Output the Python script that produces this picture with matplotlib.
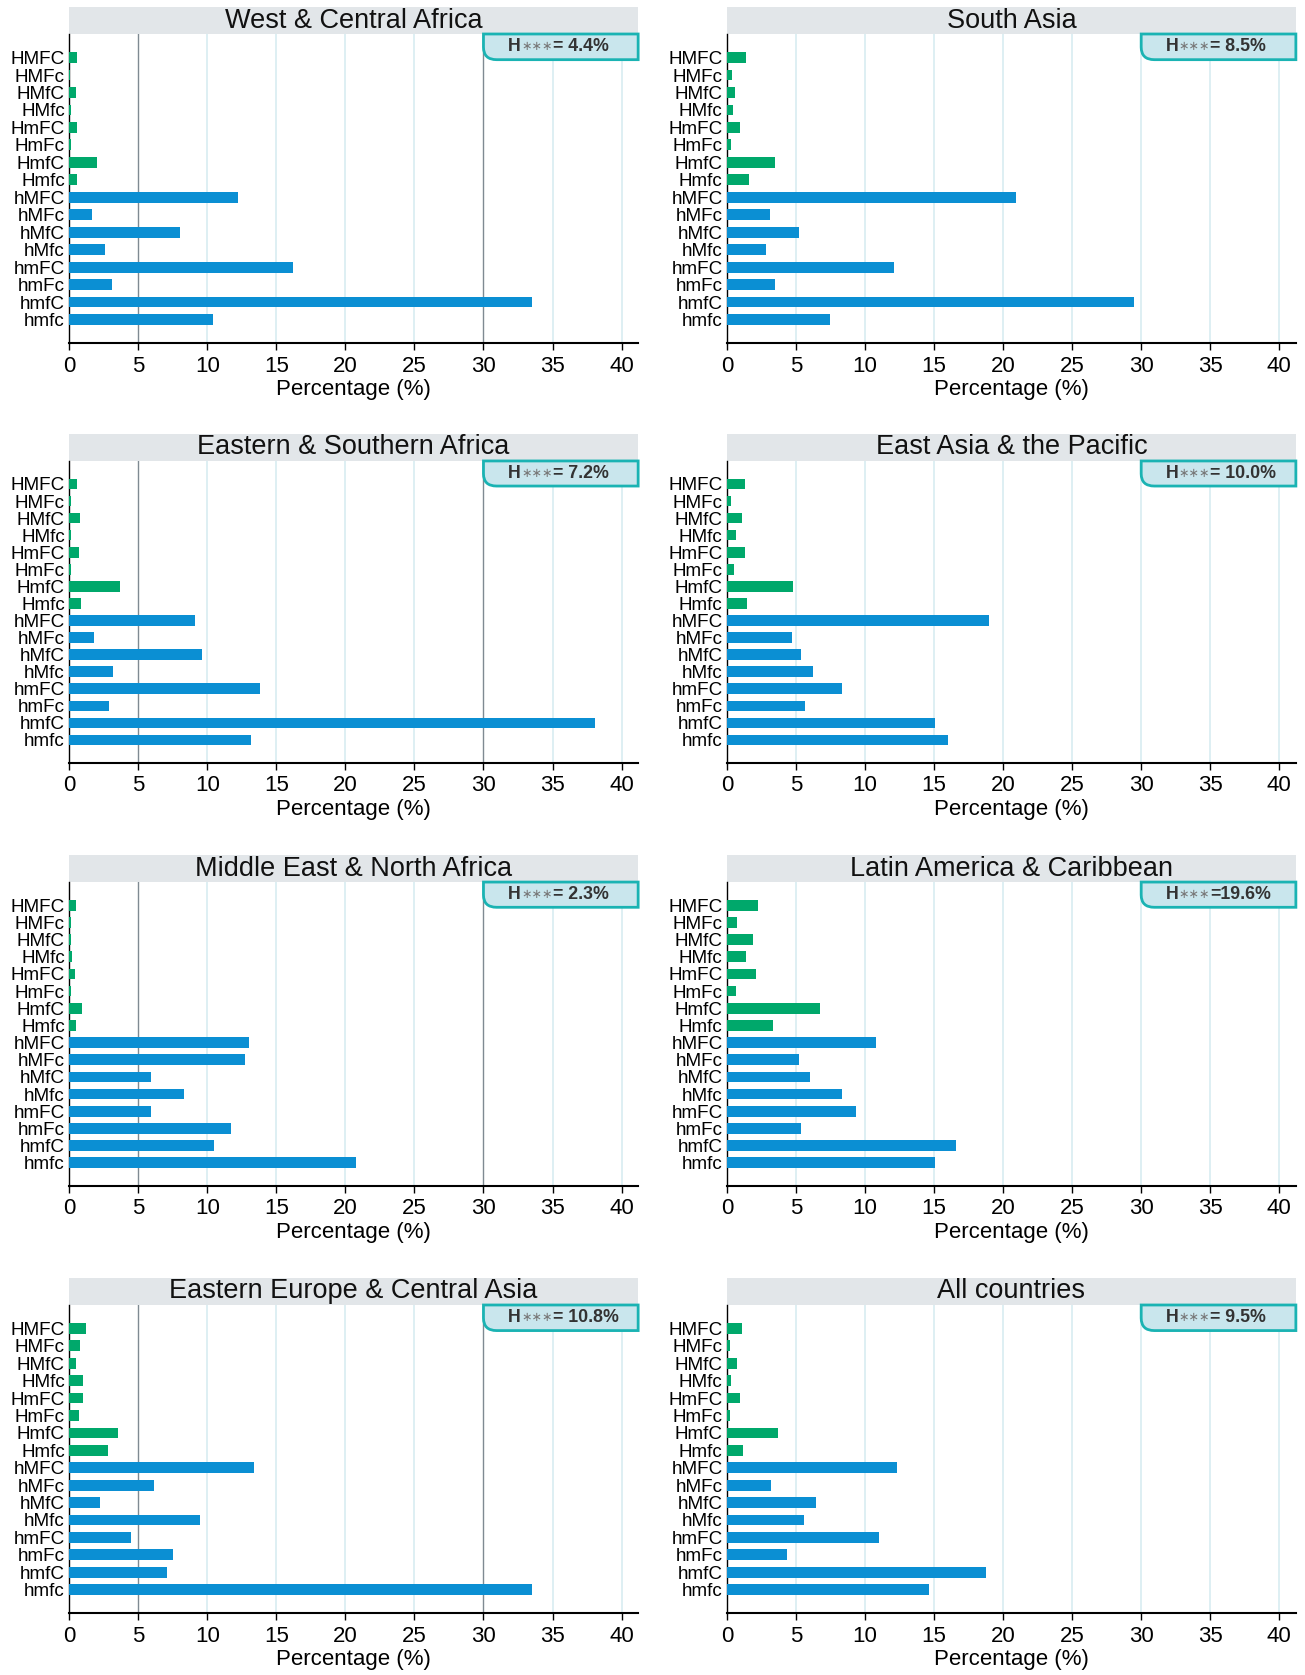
import matplotlib
matplotlib.use("Agg")
import matplotlib.pyplot as plt
from matplotlib.patches import Rectangle, PathPatch
from matplotlib.path import Path

plt.rcParams["font.family"] = ["Liberation Sans", "DejaVu Sans"]

# household type codes, top to bottom
tipos = ["HMFC", "HMFc", "HMfC", "HMfc", "HmFC", "HmFc", "HmfC", "Hmfc",
         "hMFC", "hMFc", "hMfC", "hMfc", "hmFC", "hmFc", "hmfC", "hmfc"]

regioes = ["West & Central Africa", "South Asia",
           "Eastern & Southern Africa", "East Asia & the Pacific",
           "Middle East & North Africa", "Latin America & Caribbean",
           "Eastern Europe & Central Asia", "All countries"]

# percentage of households in each type, same order as tipos
west_central_africa = [0.55, 0.05, 0.5, 0.1, 0.6, 0.1, 2.05, 0.6,
                       12.2, 1.65, 8.0, 2.6, 16.2, 3.1, 33.5, 10.4]
south_asia = [1.4, 0.38, 0.62, 0.44, 0.95, 0.3, 3.5, 1.58,
              20.9, 3.15, 5.2, 2.8, 12.1, 3.48, 29.5, 7.44]
eastern_southern_africa = [0.6, 0.1, 0.82, 0.12, 0.73, 0.1, 3.66, 0.88,
                           9.1, 1.8, 9.6, 3.17, 13.8, 2.87, 38.1, 13.2]
east_asia_pacific = [1.31, 0.3, 1.07, 0.68, 1.28, 0.5, 4.8, 1.43,
                     19.0, 4.7, 5.36, 6.25, 8.33, 5.68, 15.1, 16.04]
mena = [0.52, 0.1, 0.1, 0.18, 0.4, 0.15, 0.91, 0.52,
        13.0, 12.7, 5.95, 8.3, 5.9, 11.7, 10.5, 20.8]
latin_america = [2.26, 0.74, 1.87, 1.37, 2.14, 0.65, 6.73, 3.33,
                 10.77, 5.2, 6.0, 8.33, 9.35, 5.39, 16.58, 15.1]
eastern_europe = [1.19, 0.76, 0.49, 0.97, 0.97, 0.7, 3.5, 2.8,
                  13.35, 6.15, 2.2, 9.5, 4.5, 7.5, 7.1, 33.5]
all_countries = [1.1, 0.21, 0.74, 0.3, 0.98, 0.24, 3.69, 1.16,
                 12.32, 3.21, 6.46, 5.57, 11.04, 4.37, 18.75, 14.6]

valores = [west_central_africa, south_asia, eastern_southern_africa,
           east_asia_pacific, mena, latin_america, eastern_europe, all_countries]

rotulos_h = ["= 4.4%", "= 8.5%", "= 7.2%", "= 10.0%",
             "= 2.3%", "=19.6%", "= 10.8%", "= 9.5%"]

VERDE = "#00a86b"
AZUL = "#0b8fd3"
FAIXA = "#e2e6e9"
GRADE = "#d8ecf1"
GRADE_ESCURA = "#7f8a92"
BORDA_CAIXA = "#1ab3b3"
FUNDO_CAIXA = "#c9e6ed"

XMAX = 41.2
YMIN, YMAX = -1.35, 16.35

fig = plt.figure(figsize=(13.05, 16.75), dpi=100)

lefts = [0.053, 0.557]
linhas = [(0.7952, 0.9797), (0.5445, 0.7248), (0.292, 0.4734), (0.037, 0.2209)]
largura = 0.436


def desenhar_caixa(ax, texto):
    x0, x1 = 30.0, XMAX
    y1 = YMAX
    y0 = YMAX - 1.47
    rx, ry = 0.95, 0.72
    verts = [(x1, y1), (x0, y1), (x0, y0 + ry), (x0, y0), (x0 + rx, y0),
             (x1, y0), (x1, y1)]
    codes = [Path.MOVETO, Path.LINETO, Path.LINETO, Path.CURVE3, Path.CURVE3,
             Path.LINETO, Path.CLOSEPOLY]
    patch = PathPatch(Path(verts, codes), facecolor=FUNDO_CAIXA,
                      edgecolor=BORDA_CAIXA, lw=2.0, clip_on=False, zorder=5)
    ax.add_patch(patch)
    yc = (y0 + y1) / 2
    t1 = ax.text(31.8, yc, "H", fontsize=12.8, fontweight="bold",
                 color="#333333", va="center", ha="left", zorder=6)
    t2 = ax.annotate("∗∗∗", xy=(1, 0.5), xycoords=t1, fontsize=9,
                     color="#777777", va="center", ha="left", zorder=6,
                     family="DejaVu Sans")
    ax.annotate(texto, xy=(1, 0), xycoords=(t2, t1), fontsize=12.8,
                fontweight="bold", color="#333333", va="bottom", ha="left",
                zorder=6)


for i, (regiao, vals) in enumerate(zip(regioes, valores)):
    col = i % 2
    lin = i // 2
    bottom, top = linhas[lin]
    ax = fig.add_axes([lefts[col], bottom, largura, top - bottom])

    ys = list(range(len(tipos) - 1, -1, -1))
    cores = [VERDE if t.startswith("H") else AZUL for t in tipos]
    ax.barh(ys, vals, height=0.62, color=cores, zorder=3)

    ax.set_xlim(0, XMAX)
    ax.set_ylim(YMIN, YMAX)
    ax.set_xticks(range(0, 41, 5))
    ax.set_yticks(ys)
    ax.set_yticklabels(tipos)
    ax.tick_params(axis="y", length=0, pad=3, labelsize=13.6)
    ax.tick_params(axis="x", length=5, width=1, pad=4, labelsize=16)
    ax.set_xlabel("Percentage (%)", fontsize=16, labelpad=2)

    ax.xaxis.grid(True, color=GRADE, lw=1.2, zorder=0)
    ax.set_axisbelow(True)
    if col == 0:
        gl = ax.get_xgridlines()
        for k in (1, 6):
            gl[k].set_color(GRADE_ESCURA)
            gl[k].set_linewidth(1.0)

    for lado in ("top", "right"):
        ax.spines[lado].set_visible(False)
    ax.spines["left"].set_linewidth(1.0)
    ax.spines["bottom"].set_linewidth(1.5)

    # faixa cinza com o nome da regiao
    alt_faixa = 27.0 / ((top - bottom) * 1675)
    ax.add_patch(Rectangle((0, 1), 1, alt_faixa, transform=ax.transAxes,
                           facecolor=FAIXA, edgecolor="none", clip_on=False))
    ax.text(0.5, 1 + alt_faixa / 2, regiao, transform=ax.transAxes,
            ha="center", va="center", fontsize=19.5, color="#111111")

    desenhar_caixa(ax, rotulos_h[i])

fig.savefig("out.png", dpi=100)
